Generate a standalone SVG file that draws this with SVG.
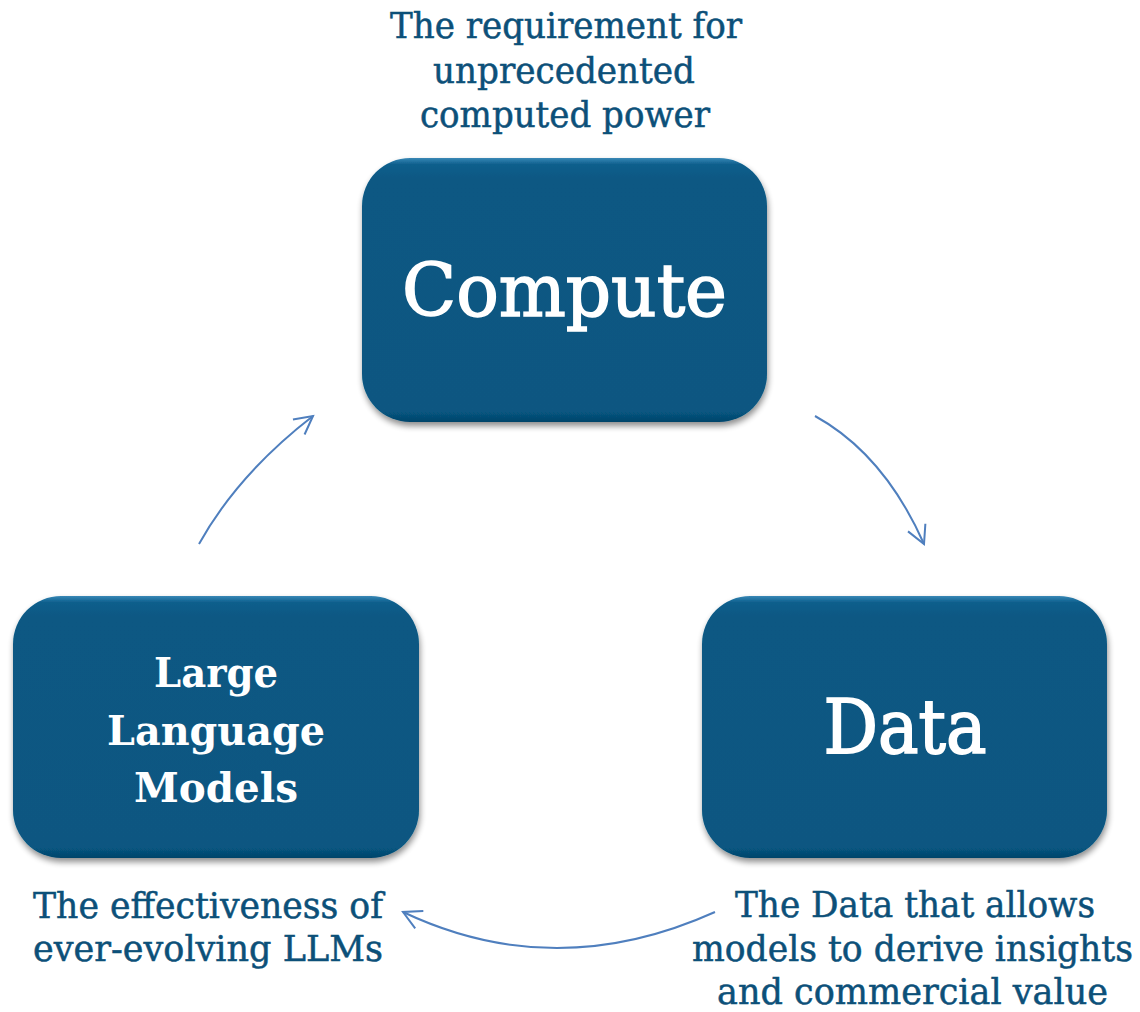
<svg xmlns="http://www.w3.org/2000/svg" width="1140" height="1012" viewBox="0 0 1140 1012">
  <style>
    .box { fill: url(#boxGrad); filter: url(#shadow); }
    .big { font-family: "DejaVu Serif", "Liberation Serif", serif; fill: #ffffff; stroke: #ffffff; text-anchor: middle; }
    .cap { font-family: "DejaVu Serif", "Liberation Serif", serif; fill: #0C5079; stroke: #0C5079; stroke-width: 0.5; font-size: 35px; text-anchor: middle; }
    .conn { fill: none; stroke: #4F7FBE; stroke-width: 2; marker-end: url(#arrow); }
  </style>
  <defs>
    <linearGradient id="boxGrad" x1="0" y1="0" x2="0" y2="1">
      <stop offset="0" stop-color="#3A88B6"/>
      <stop offset="0.025" stop-color="#0A5E8C"/>
      <stop offset="0.08" stop-color="#075883"/>
      <stop offset="0.96" stop-color="#075781"/>
      <stop offset="1" stop-color="#05446A"/>
    </linearGradient>
    <filter id="shadow" x="-10%" y="-10%" width="125%" height="130%">
      <feGaussianBlur in="SourceAlpha" stdDeviation="3"/>
      <feOffset dx="1" dy="4" result="b"/>
      <feComponentTransfer><feFuncA type="linear" slope="0.45"/></feComponentTransfer>
      <feMerge><feMergeNode/><feMergeNode in="SourceGraphic"/></feMerge>
    </filter>
    <marker id="arrow" markerUnits="userSpaceOnUse" markerWidth="30" markerHeight="30" viewBox="-22 -15 26 30" refX="0" refY="0" orient="auto">
      <path d="M-18,-9.5 L0,0 L-18,9.5" fill="none" stroke="#4F7FBE" stroke-width="2"/>
    </marker>
  </defs>

  <g id="connectors">
    <path class="conn" d="M199,544 Q238,474 313,416"/>
    <path class="conn" d="M815,416 Q884,454 924,544"/>
    <path class="conn" d="M715,912 Q555,984 403,912"/>
  </g>

  <g id="node-compute">
    <rect class="box" x="362" y="158" width="405" height="264" rx="48" ry="48"/>
    <text class="big" x="564.5" y="316" font-size="73" stroke-width="1.6" textLength="325" lengthAdjust="spacingAndGlyphs">Compute</text>
  </g>

  <g id="node-data">
    <rect class="box" x="702" y="596" width="405" height="262" rx="48" ry="48"/>
    <text class="big" x="905" y="753" font-size="75" stroke-width="1.8" textLength="163" lengthAdjust="spacingAndGlyphs">Data</text>
  </g>

  <g id="node-llm">
    <rect class="box" x="13" y="596" width="406" height="262" rx="48" ry="48"/>
    <text class="big" x="216" y="687" font-size="41" font-weight="bold" stroke-width="0" textLength="124" lengthAdjust="spacingAndGlyphs">Large</text>
    <text class="big" x="216" y="745" font-size="41" font-weight="bold" stroke-width="0" textLength="218" lengthAdjust="spacingAndGlyphs">Language</text>
    <text class="big" x="216" y="802" font-size="41" font-weight="bold" stroke-width="0" textLength="164" lengthAdjust="spacingAndGlyphs">Models</text>
  </g>

  <g id="caption-compute">
    <text class="cap" x="566" y="38" textLength="352" lengthAdjust="spacingAndGlyphs">The requirement for</text>
    <text class="cap" x="564" y="83" textLength="262" lengthAdjust="spacingAndGlyphs">unprecedented</text>
    <text class="cap" x="565" y="127" textLength="290" lengthAdjust="spacingAndGlyphs">computed power</text>
  </g>

  <g id="caption-llm">
    <text class="cap" x="208" y="918" textLength="350" lengthAdjust="spacingAndGlyphs">The effectiveness of</text>
    <text class="cap" x="208" y="961" textLength="350" lengthAdjust="spacingAndGlyphs">ever-evolving LLMs</text>
  </g>

  <g id="caption-data">
    <text class="cap" x="915" y="917" textLength="360" lengthAdjust="spacingAndGlyphs">The Data that allows</text>
    <text class="cap" x="912.5" y="961" textLength="441" lengthAdjust="spacingAndGlyphs">models to derive insights</text>
    <text class="cap" x="912.5" y="1004" textLength="391" lengthAdjust="spacingAndGlyphs">and commercial value</text>
  </g>
</svg>
